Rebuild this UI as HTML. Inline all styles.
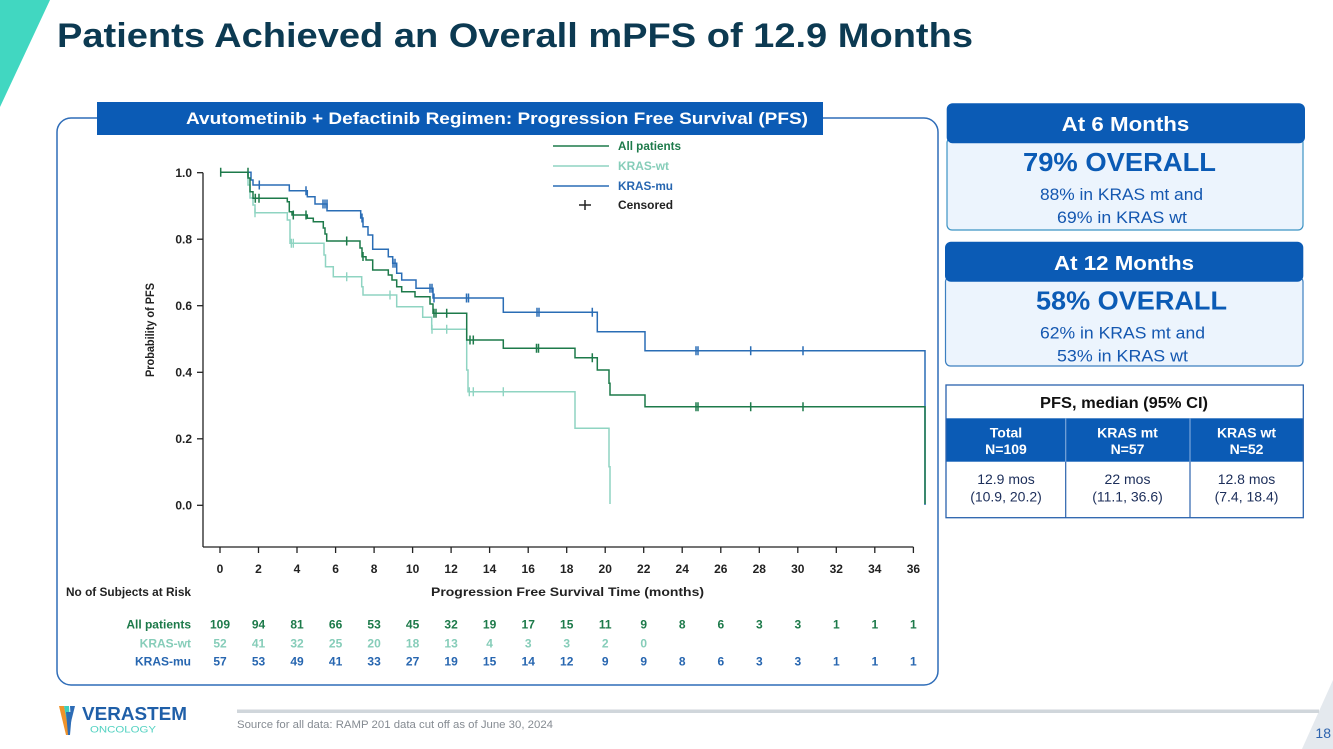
<!DOCTYPE html>
<html><head><meta charset="utf-8"><style>
html,body{margin:0;padding:0;background:#fff;}
svg{display:block;}
text{font-family:"Liberation Sans",Arial,sans-serif;}
</style></head><body>
<svg width="1333" height="749" viewBox="0 0 1333 749" xmlns="http://www.w3.org/2000/svg">
<rect width="1333" height="749" fill="#fff"/>
<!-- teal corner -->
<polygon points="0,0 50,0 0,107" fill="#41d7c1"/>
<!-- title -->
<text x="57" y="47" font-size="34" font-weight="bold" fill="#0c3a52" textLength="916" lengthAdjust="spacingAndGlyphs">Patients Achieved an Overall mPFS of 12.9 Months</text>

<!-- chart container -->
<rect x="57" y="118" width="881" height="567" rx="14" ry="14" fill="none" stroke="#2f6db8" stroke-width="1.5"/>
<rect x="97" y="102" width="726" height="33" fill="#0b5bb5"/>
<text x="186" y="124" font-size="17" font-weight="bold" fill="#fff" textLength="622" lengthAdjust="spacingAndGlyphs">Avutometinib + Defactinib Regimen: Progression Free Survival (PFS)</text>

<!-- axes -->
<g stroke="#222" stroke-width="1.3" fill="none">
<line x1="203" y1="172.7" x2="203" y2="547"/>
<line x1="203" y1="547" x2="913.4" y2="547"/>
<line x1="197" y1="172.7" x2="203" y2="172.7"/>
<line x1="197" y1="239.2" x2="203" y2="239.2"/>
<line x1="197" y1="305.7" x2="203" y2="305.7"/>
<line x1="197" y1="372.3" x2="203" y2="372.3"/>
<line x1="197" y1="438.8" x2="203" y2="438.8"/>
<line x1="197" y1="505.3" x2="203" y2="505.3"/>
<line x1="220" y1="547" x2="220" y2="553"/>
<line x1="258.5" y1="547" x2="258.5" y2="553"/>
<line x1="297" y1="547" x2="297" y2="553"/>
<line x1="335.6" y1="547" x2="335.6" y2="553"/>
<line x1="374.1" y1="547" x2="374.1" y2="553"/>
<line x1="412.6" y1="547" x2="412.6" y2="553"/>
<line x1="451.1" y1="547" x2="451.1" y2="553"/>
<line x1="489.6" y1="547" x2="489.6" y2="553"/>
<line x1="528.2" y1="547" x2="528.2" y2="553"/>
<line x1="566.7" y1="547" x2="566.7" y2="553"/>
<line x1="605.2" y1="547" x2="605.2" y2="553"/>
<line x1="643.7" y1="547" x2="643.7" y2="553"/>
<line x1="682.2" y1="547" x2="682.2" y2="553"/>
<line x1="720.8" y1="547" x2="720.8" y2="553"/>
<line x1="759.3" y1="547" x2="759.3" y2="553"/>
<line x1="797.8" y1="547" x2="797.8" y2="553"/>
<line x1="836.3" y1="547" x2="836.3" y2="553"/>
<line x1="874.8" y1="547" x2="874.8" y2="553"/>
<line x1="913.4" y1="547" x2="913.4" y2="553"/>
</g>
<g font-size="12" font-weight="bold" fill="#222" text-anchor="end">
<text x="192" y="177">1.0</text>
<text x="192" y="243.5">0.8</text>
<text x="192" y="310">0.6</text>
<text x="192" y="376.5">0.4</text>
<text x="192" y="443">0.2</text>
<text x="192" y="509.5">0.0</text>
</g>
<text transform="translate(154,330) rotate(-90)" font-size="12" font-weight="bold" fill="#222" text-anchor="middle" textLength="94" lengthAdjust="spacingAndGlyphs">Probability of PFS</text>
<g font-size="12" font-weight="bold" fill="#222" text-anchor="middle">
<text x="220" y="573">0</text><text x="258.5" y="573">2</text><text x="297" y="573">4</text><text x="335.6" y="573">6</text><text x="374.1" y="573">8</text><text x="412.6" y="573">10</text><text x="451.1" y="573">12</text><text x="489.6" y="573">14</text><text x="528.2" y="573">16</text><text x="566.7" y="573">18</text><text x="605.2" y="573">20</text><text x="643.7" y="573">22</text><text x="682.2" y="573">24</text><text x="720.8" y="573">26</text><text x="759.3" y="573">28</text><text x="797.8" y="573">30</text><text x="836.3" y="573">32</text><text x="874.8" y="573">34</text><text x="913.4" y="573">36</text>
</g>
<text x="431" y="596" font-size="12" font-weight="bold" fill="#222" textLength="273" lengthAdjust="spacingAndGlyphs">Progression Free Survival Time (months)</text>
<text x="66" y="596" font-size="12" font-weight="bold" fill="#222" textLength="125" lengthAdjust="spacingAndGlyphs">No of Subjects at Risk</text>

<!-- risk table -->
<g font-size="12" font-weight="bold" text-anchor="end">
<text x="191" y="628.5" fill="#1d7a4a">All patients</text>
<text x="191" y="647.5" fill="#86cdb9">KRAS-wt</text>
<text x="191" y="665.5" fill="#2766b0">KRAS-mu</text>
</g>
<g font-size="12" font-weight="bold" text-anchor="middle" fill="#1d7a4a">
<text x="220" y="628.5">109</text><text x="258.5" y="628.5">94</text><text x="297" y="628.5">81</text><text x="335.6" y="628.5">66</text><text x="374.1" y="628.5">53</text><text x="412.6" y="628.5">45</text><text x="451.1" y="628.5">32</text><text x="489.6" y="628.5">19</text><text x="528.2" y="628.5">17</text><text x="566.7" y="628.5">15</text><text x="605.2" y="628.5">11</text><text x="643.7" y="628.5">9</text><text x="682.2" y="628.5">8</text><text x="720.8" y="628.5">6</text><text x="759.3" y="628.5">3</text><text x="797.8" y="628.5">3</text><text x="836.3" y="628.5">1</text><text x="874.8" y="628.5">1</text><text x="913.4" y="628.5">1</text>
</g>
<g font-size="12" font-weight="bold" text-anchor="middle" fill="#86cdb9">
<text x="220" y="647.5">52</text><text x="258.5" y="647.5">41</text><text x="297" y="647.5">32</text><text x="335.6" y="647.5">25</text><text x="374.1" y="647.5">20</text><text x="412.6" y="647.5">18</text><text x="451.1" y="647.5">13</text><text x="489.6" y="647.5">4</text><text x="528.2" y="647.5">3</text><text x="566.7" y="647.5">3</text><text x="605.2" y="647.5">2</text><text x="643.7" y="647.5">0</text>
</g>
<g font-size="12" font-weight="bold" text-anchor="middle" fill="#2766b0">
<text x="220" y="665.5">57</text><text x="258.5" y="665.5">53</text><text x="297" y="665.5">49</text><text x="335.6" y="665.5">41</text><text x="374.1" y="665.5">33</text><text x="412.6" y="665.5">27</text><text x="451.1" y="665.5">19</text><text x="489.6" y="665.5">15</text><text x="528.2" y="665.5">14</text><text x="566.7" y="665.5">12</text><text x="605.2" y="665.5">9</text><text x="643.7" y="665.5">9</text><text x="682.2" y="665.5">8</text><text x="720.8" y="665.5">6</text><text x="759.3" y="665.5">3</text><text x="797.8" y="665.5">3</text><text x="836.3" y="665.5">1</text><text x="874.8" y="665.5">1</text><text x="913.4" y="665.5">1</text>
</g>

<!-- legend -->
<g stroke-width="1.5">
<line x1="553" y1="146" x2="609" y2="146" stroke="#1d7a4a"/>
<line x1="553" y1="166" x2="609" y2="166" stroke="#8fd4c2"/>
<line x1="553" y1="186" x2="609" y2="186" stroke="#2a6db5"/>
<line x1="579" y1="205" x2="591" y2="205" stroke="#222"/>
<line x1="585" y1="200" x2="585" y2="210" stroke="#222"/>
</g>
<g font-size="11.5" font-weight="bold">
<text x="618" y="150" fill="#1d7a4a" textLength="63" lengthAdjust="spacingAndGlyphs">All patients</text>
<text x="618" y="170" fill="#86cdb9" textLength="51" lengthAdjust="spacingAndGlyphs">KRAS-wt</text>
<text x="618" y="190" fill="#2766b0" textLength="55" lengthAdjust="spacingAndGlyphs">KRAS-mu</text>
<text x="618" y="209" fill="#222" textLength="55" lengthAdjust="spacingAndGlyphs">Censored</text>
</g>

<!-- curves -->
<g fill="none" stroke-width="1.5" stroke-linejoin="miter">
<path stroke="#8fd4c2" d="M220,172.3 H248 V185 H250 V198 H253 V205 H255 V212.7 H287.3 V220 H290 V243.3 H324 V255 H325.5 V266.7 H333.3 V276.7 H361.7 V286.7 H363 V295 H396.7 V306.7 H422.7 V317.3 H431.7 V329.3 H466.7 V370 H468 V391.7 H575 V428.3 H609 V466.7 H610 V504"/>
<path stroke="#2a6db5" d="M220,172.3 H251 V180 H253 V185 H289.3 V190.7 H307.3 V196.7 H315 V204 H327 V210.7 H360.7 V218 H363 V226.7 H368 V235 H372.7 V249.3 H388.3 V256.7 H392.7 V263.3 H396.7 V273.3 H401.7 V280 H416 V288.3 H433 V298 H503.3 V312.3 H597.3 V331.7 H645 V350.7 H925 V505"/>
<path stroke="#1d7a4a" d="M220,172.3 H248 V178 H250 V191.7 H253 V198.3 H287.3 V201.7 H289.3 V211.7 H292 V215 H307.3 V218.3 H313.3 V221.7 H323.3 V228 H325 V234 H326.7 V241 H360 V248 H362 V256.7 H366 V260 H372.7 V270 H388.3 V275 H392 V280 H396.7 V286.7 H401.7 V291.7 H415 V296.7 H430 V304 H433 V313.3 H466.7 V340 H503.3 V348.3 H575 V357.7 H597.3 V370 H609 V383.3 H610 V395 H645 V406.7 H925 V504"/>
</g>
<!-- censor marks -->
<g stroke="#8fd4c2" stroke-width="1.4">
<path d="M255,208.2 v9 M291.3,238.8 v9 M293.3,238.8 v9 M346.7,272.2 v9 M390,290.5 v9 M432,324.8 v9 M446.7,324.8 v9 M469.3,387.2 v9 M473.3,387.2 v9 M503.3,387.2 v9"/>
</g>
<g stroke="#2a6db5" stroke-width="1.5">
<path d="M259.3,180.5 v9 M306,186.2 v9 M323,199.5 v9 M325,199.5 v9 M327,199.5 v9 M362,213.5 v9 M393,258.8 v9 M395,258.8 v9 M430,283.8 v9 M432,283.8 v9 M434,293.5 v9 M466.5,293.5 v9 M468.5,293.5 v9 M537,307.8 v9 M539,307.8 v9 M592.3,307.8 v9 M696,346.2 v9 M698,346.2 v9 M750.7,346.2 v9 M803,346.2 v9"/>
</g>
<g stroke="#1d7a4a" stroke-width="1.5">
<path d="M220.7,167.8 v9 M248,167.8 v9 M255.3,193.8 v9 M259,193.8 v9 M293.3,210.5 v9 M306,210.5 v9 M346.7,236.5 v9 M363,252 v9 M434,308.8 v9 M436,308.8 v9 M446.7,308.8 v9 M470,335.5 v9 M473.3,335.5 v9 M536.5,343.8 v9 M538.5,343.8 v9 M592.3,353.2 v9 M696,402.2 v9 M698,402.2 v9 M750.7,402.2 v9 M803,402.2 v9"/>
</g>

<!-- right panel 1 -->
<rect x="947" y="138" width="356" height="92" rx="5" fill="#ecf4fd" stroke="#3c93c4" stroke-width="1.2"/>
<rect x="946.7" y="103.3" width="358.3" height="40" rx="6" fill="#0b5bb5"/>
<text x="1061.7" y="131" font-size="20" font-weight="bold" fill="#fff" textLength="127.6" lengthAdjust="spacingAndGlyphs">At 6 Months</text>
<text x="1023" y="171" font-size="26" font-weight="bold" fill="#0b5bb5" textLength="193" lengthAdjust="spacingAndGlyphs">79% OVERALL</text>
<text x="1040" y="200" font-size="17" fill="#1457b0" textLength="163" lengthAdjust="spacingAndGlyphs">88% in KRAS mt and</text>
<text x="1057" y="223" font-size="17" fill="#1457b0" textLength="130" lengthAdjust="spacingAndGlyphs">69% in KRAS wt</text>

<!-- right panel 2 -->
<rect x="945.5" y="277" width="357.5" height="89" rx="5" fill="#ecf4fd" stroke="#3c7fc0" stroke-width="1.2"/>
<rect x="945" y="241.7" width="358.3" height="40" rx="6" fill="#0b5bb5"/>
<text x="1054" y="270" font-size="20" font-weight="bold" fill="#fff" textLength="140" lengthAdjust="spacingAndGlyphs">At 12 Months</text>
<text x="1036" y="309.3" font-size="26" font-weight="bold" fill="#0b5bb5" textLength="191" lengthAdjust="spacingAndGlyphs">58% OVERALL</text>
<text x="1040" y="338.3" font-size="17" fill="#1457b0" textLength="165" lengthAdjust="spacingAndGlyphs">62% in KRAS mt and</text>
<text x="1057" y="361.7" font-size="17" fill="#1457b0" textLength="131" lengthAdjust="spacingAndGlyphs">53% in KRAS wt</text>

<!-- table -->
<rect x="946" y="418.3" width="357.3" height="43.4" fill="#0b5bb5"/>
<line x1="1065.7" y1="418.3" x2="1065.7" y2="461.7" stroke="#7aa5da" stroke-width="1.2"/>
<line x1="1190" y1="418.3" x2="1190" y2="461.7" stroke="#7aa5da" stroke-width="1.2"/>
<line x1="1065.7" y1="461.7" x2="1065.7" y2="517.7" stroke="#2a62ad" stroke-width="1.2"/>
<line x1="1190" y1="461.7" x2="1190" y2="517.7" stroke="#2a62ad" stroke-width="1.2"/>
<rect x="946" y="385" width="357.3" height="132.7" fill="none" stroke="#2a62ad" stroke-width="1.3"/>
<text x="1040" y="408" font-size="16" font-weight="bold" fill="#111" textLength="168" lengthAdjust="spacingAndGlyphs">PFS, median (95% CI)</text>
<g font-size="14" font-weight="bold" fill="#fff" text-anchor="middle">
<text x="1006" y="437.3">Total</text>
<text x="1006" y="454">N=109</text>
<text x="1127.5" y="437.3">KRAS mt</text>
<text x="1127.5" y="454">N=57</text>
<text x="1246.5" y="437.3">KRAS wt</text>
<text x="1246.5" y="454">N=52</text>
</g>
<g font-size="14" fill="#1c2e5a" text-anchor="middle">
<text x="1006" y="484">12.9 mos</text>
<text x="1006" y="501.7">(10.9, 20.2)</text>
<text x="1127.5" y="484">22 mos</text>
<text x="1127.5" y="501.7">(11.1, 36.6)</text>
<text x="1246.5" y="484">12.8 mos</text>
<text x="1246.5" y="501.7">(7.4, 18.4)</text>
</g>

<!-- footer -->
<polygon points="1333,680 1333,749 1302,749" fill="#e4e9ee"/>
<rect x="237" y="709.5" width="1082" height="3.5" fill="#d0d6db"/>
<text x="237" y="728" font-size="11" fill="#858b92" textLength="316" lengthAdjust="spacingAndGlyphs">Source for all data: RAMP 201 data cut off as of June 30, 2024</text>
<text x="1331" y="738" font-size="14" fill="#2d63ad" text-anchor="end">18</text>
<!-- logo -->
<polygon points="59,706 64,706 70,735 66,735" fill="#f0932b"/>
<polygon points="64,706 69,706 70,722 67,722" fill="#3ccfbf"/>
<polygon points="66,712 72,712 70,735 68,735" fill="#2d6cb5"/>
<polygon points="70,706 75,706 71,722" fill="#2d6cb5"/>
<text x="82" y="720" font-size="18" font-weight="bold" fill="#1f5fa8" textLength="105" lengthAdjust="spacingAndGlyphs">VERASTEM</text>
<text x="90" y="732.5" font-size="9.5" fill="#4fd1c0" textLength="66" lengthAdjust="spacingAndGlyphs">ONCOLOGY</text>
</svg>
</body></html>
